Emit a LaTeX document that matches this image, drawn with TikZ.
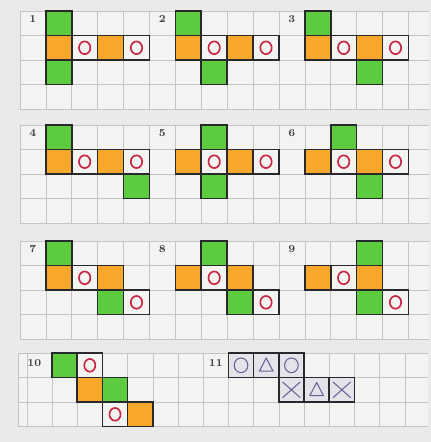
\documentclass[tikz,border=0pt]{standalone}
\usepackage{tikz}
\definecolor{papier}{RGB}{234,234,232}
\definecolor{kaestchen}{RGB}{243,243,241}
\definecolor{raster}{RGB}{196,196,196}
\definecolor{gruenstift}{RGB}{92,204,62}
\definecolor{orangestift}{RGB}{247,168,42}
\definecolor{rotstift}{RGB}{200,38,68}
\definecolor{blaustift}{RGB}{100,100,150}
\definecolor{grautinte}{RGB}{229,227,233}
\definecolor{rand}{RGB}{40,40,45}

\begin{document}
\begin{tikzpicture}[x=0.6cm, y=-0.5676cm,
	feld/.style={draw=rand, line width=1pt},
	gfeld/.style={feld, fill=gruenstift},
	ofeld/.style={feld, fill=orangestift},
	kreis/.style={draw=rotstift, line width=1.1pt},
	symb/.style={draw=blaustift, line width=0.7pt, line join=round},
	nr/.style={font=\scriptsize\bfseries, text=black!75, inner sep=0pt}]
	%Bildbereich
	\useasboundingbox[fill=papier] (0,0) rectangle (16.64,18.04);
	%Raster zeichnen
	\foreach \t/\h in {0.45/4, 5.10/4, 9.84/4} {
		\begin{scope}[shift={(0.77,\t)}]
			\fill[kaestchen] (0,0) rectangle (15.8,\h);
			\foreach \k in {0,...,15} \draw[raster, line width=0.4pt] (\k,0) -- (\k,\h);
			\foreach \j in {0,...,\h} \draw[raster, line width=0.4pt] (0,\j) -- (15.8,\j);
		\end{scope}
	}
	\begin{scope}[shift={(1.035,14.41)}, xscale=0.973]
		\fill[kaestchen] (-0.35,0) rectangle (15.9,3);
		\foreach \k in {-0.35,0,1,...,15} \draw[raster, line width=0.4pt] (\k,0) -- (\k,3);
		\foreach \j in {0,...,3} \draw[raster, line width=0.4pt] (-0.35,\j) -- (15.9,\j);
	\end{scope}
	% Netze 1 bis 3
	\begin{scope}[shift={(0.77,0.45)}]
		\foreach \c/\r in {1/0,1/2,6/0,7/2,11/0,13/2} \draw[gfeld] (\c,\r) rectangle ++(1,1);
		\foreach \c/\r in {1/1,3/1,6/1,8/1,11/1,13/1} \draw[ofeld] (\c,\r) rectangle ++(1,1);
		\foreach \c/\r in {2/1,4/1,7/1,9/1,12/1,14/1} {
			\draw[feld] (\c,\r) rectangle ++(1,1);
			\draw[kreis] (\c+0.5,\r+0.5) ellipse (0.22 and 0.26);
		}
		\foreach \n/\c in {1/0,2/5,3/10} \node[nr] (nr\n) at (\c+0.5,0.32) {\n};
	\end{scope}
	% Netze 4 bis 6
	\begin{scope}[shift={(0.77,5.10)}]
		\foreach \c/\r in {1/0,4/2,7/0,7/2,12/0,13/2} \draw[gfeld] (\c,\r) rectangle ++(1,1);
		\foreach \c/\r in {1/1,3/1,6/1,8/1,11/1,13/1} \draw[ofeld] (\c,\r) rectangle ++(1,1);
		\foreach \c/\r in {2/1,4/1,7/1,9/1,12/1,14/1} {
			\draw[feld] (\c,\r) rectangle ++(1,1);
			\draw[kreis] (\c+0.5,\r+0.5) ellipse (0.22 and 0.26);
		}
		\foreach \n/\c in {4/0,5/5,6/10} \node[nr] (nr\n) at (\c+0.5,0.32) {\n};
	\end{scope}
	% Netze 7 bis 9
	\begin{scope}[shift={(0.77,9.84)}]
		\foreach \c/\r in {1/0,3/2,7/0,8/2,13/0,13/2} \draw[gfeld] (\c,\r) rectangle ++(1,1);
		\foreach \c/\r in {1/1,3/1,6/1,8/1,11/1,13/1} \draw[ofeld] (\c,\r) rectangle ++(1,1);
		\foreach \c/\r in {2/1,4/2,7/1,9/2,12/1,14/2} {
			\draw[feld] (\c,\r) rectangle ++(1,1);
			\draw[kreis] (\c+0.5,\r+0.5) ellipse (0.22 and 0.26);
		}
		\foreach \n/\c in {7/0,8/5,9/10} \node[nr] (nr\n) at (\c+0.5,0.32) {\n};
	\end{scope}
	% Netze 10 und 11
	\begin{scope}[shift={(1.035,14.41)}, xscale=0.973]
		\foreach \c/\r in {1/0,3/1} \draw[gfeld] (\c,\r) rectangle ++(1,1);
		\foreach \c/\r in {2/1,4/2} \draw[ofeld] (\c,\r) rectangle ++(1,1);
		\foreach \c/\r in {2/0,3/2} {
			\draw[feld] (\c,\r) rectangle ++(1,1);
			\draw[kreis] (\c+0.5,\r+0.5) ellipse (0.22 and 0.26);
		}
		\foreach \c/\r in {8/0,9/0,10/0,10/1,11/1,12/1} \draw[feld, fill=grautinte] (\c,\r) rectangle ++(1,1);
		\draw[symb] (8.5,0.5) ellipse (0.27 and 0.3);
		\draw[symb] (10.5,0.5) ellipse (0.27 and 0.3);
		\foreach \c/\r in {9/0,11/1} \draw[symb] (\c+0.5,\r+0.2) -- (\c+0.77,\r+0.74) -- (\c+0.23,\r+0.74) -- cycle;
		\foreach \c/\r in {10/1,12/1} \draw[symb] (\c+0.15,\r+0.18) -- (\c+0.85,\r+0.82) (\c+0.15,\r+0.82) -- (\c+0.85,\r+0.18);
		\node[nr] (nr10) at (0.3,0.4) {10};
		\node[nr] (nr11) at (7.5,0.4) {11};
	\end{scope}
\end{tikzpicture}
\end{document}
